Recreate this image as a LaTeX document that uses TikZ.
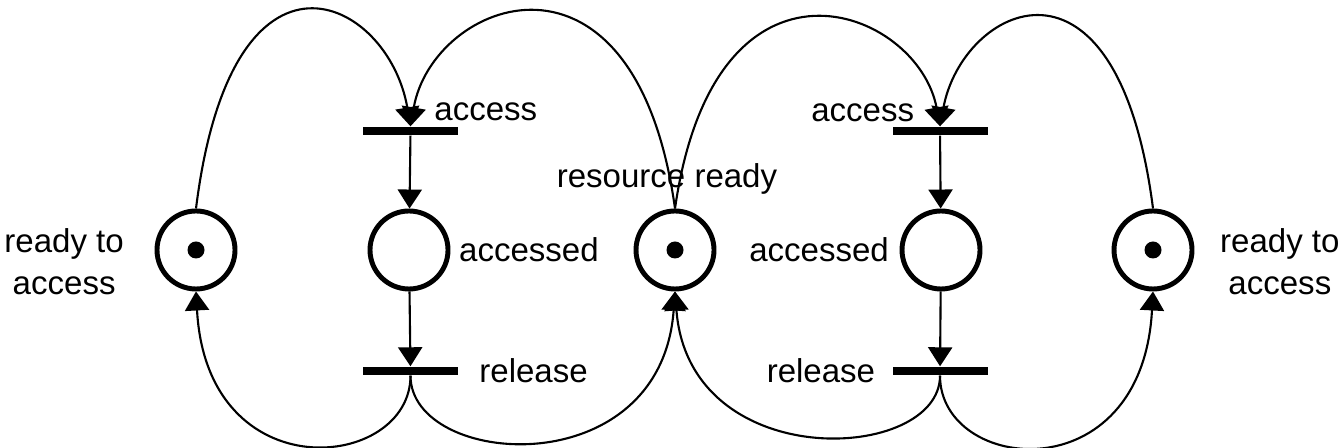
\documentclass[tikz,border=0pt]{standalone}
\usepackage{fontspec}
\setmainfont{Liberation Sans}
\usetikzlibrary{arrows.meta, positioning}

\begin{document}
\begin{tikzpicture}[
    node distance=1.2cm and 2.66cm,
    place/.style = {circle, draw=black, line width=1.4pt, minimum size=0.78cm, inner sep=0pt, on grid},
    trans/.style = {rectangle, fill=black, minimum width=0.95cm, minimum height=0.08cm, inner sep=0pt, on grid},
    token/.style = {circle, fill=black, minimum size=0.17cm, inner sep=0pt},
    lbl/.style = {inner sep=0pt, font=\fontsize{9.4}{12}\selectfont, align=center},
    flow/.style = {draw, line width=0.6pt, -{Triangle[length=1.9mm,width=2.4mm]}},
]
\useasboundingbox (0,0) rectangle (13.43,4.48);

% Places
\node [place] (p1) at (1.96,1.98) {};
\node [place, right=2.13cm of p1] (p2) {};
\node [place, right=2.66cm of p2] (p3) {};
\node [place, right=2.66cm of p3] (p4) {};
\node [place, right=2.12cm of p4] (p5) {};

% Tokens
\node [token] (k1) at (p1) {};
\node [token] (k3) at (p3) {};
\node [token] (k5) at (p5) {};

% Transitions
\node [trans, above=1.19cm of p2, xshift=0.015cm] (t1) {};
\node [trans, below=1.21cm of p2, xshift=0.015cm] (t3) {};
\node [trans, above=1.19cm of p4, xshift=-0.01cm] (t2) {};
\node [trans, below=1.21cm of p4, xshift=-0.01cm] (t4) {};

% Labels
\node [lbl, left=0.3cm of p1, yshift=-0.12cm] (lready1) {ready to\\access};
\node [lbl, right=0.25cm of p5, yshift=-0.12cm] (lready2) {ready to\\access};
\node [lbl, right=0.08cm of p2] (lacc1) {accessed};
\node [lbl, left=0.1cm of p4] (lacc2) {accessed};
\node [lbl, above=0.13cm of p3, xshift=-0.08cm] (lres) {resource ready};
\node [lbl, above right=0.05cm and -0.25cm of t1] (lget1) {access};
\node [lbl, above left=0.04cm and -0.23cm of t2] (lget2) {access};
\node [lbl, right=0.2cm of t3] (lrel1) {release};
\node [lbl, left=0.16cm of t4] (lrel2) {release};

% Arcs into the access transitions
\path [flow] (p1.north) .. controls +(0.36,2.89) and +(-0.22,1.29) .. (t1.north);
\path [flow] (p3.north) .. controls +(-0.4,2.87) and +(0.22,1.27) .. (t1.north);
\path [flow] (p3.north) .. controls +(0.4,2.79) and +(-0.22,1.19) .. (t2.north);
\path [flow] (p5.north) .. controls +(-0.36,2.80) and +(0.22,1.20) .. (t2.north);

% Straight arcs through the accessed places
\path [flow] (t1) -- (p2);
\path [flow] (p2) -- (t3);
\path [flow] (t2) -- (p4);
\path [flow] (p4) -- (t4);

% Arcs out of the release transitions
\path [flow] (t3.south) .. controls +(0,-0.95) and +(0.11,-2.01) .. (p1.south);
\path [flow] (t3.south) .. controls +(0,-0.92) and +(-0.14,-1.95) .. (p3.south);
\path [flow] (t4.south) .. controls +(0,-0.87) and +(0.14,-1.84) .. (p3.south);
\path [flow] (t4.south) .. controls +(0,-0.97) and +(-0.11,-2.03) .. (p5.south);

\end{tikzpicture}
\end{document}
